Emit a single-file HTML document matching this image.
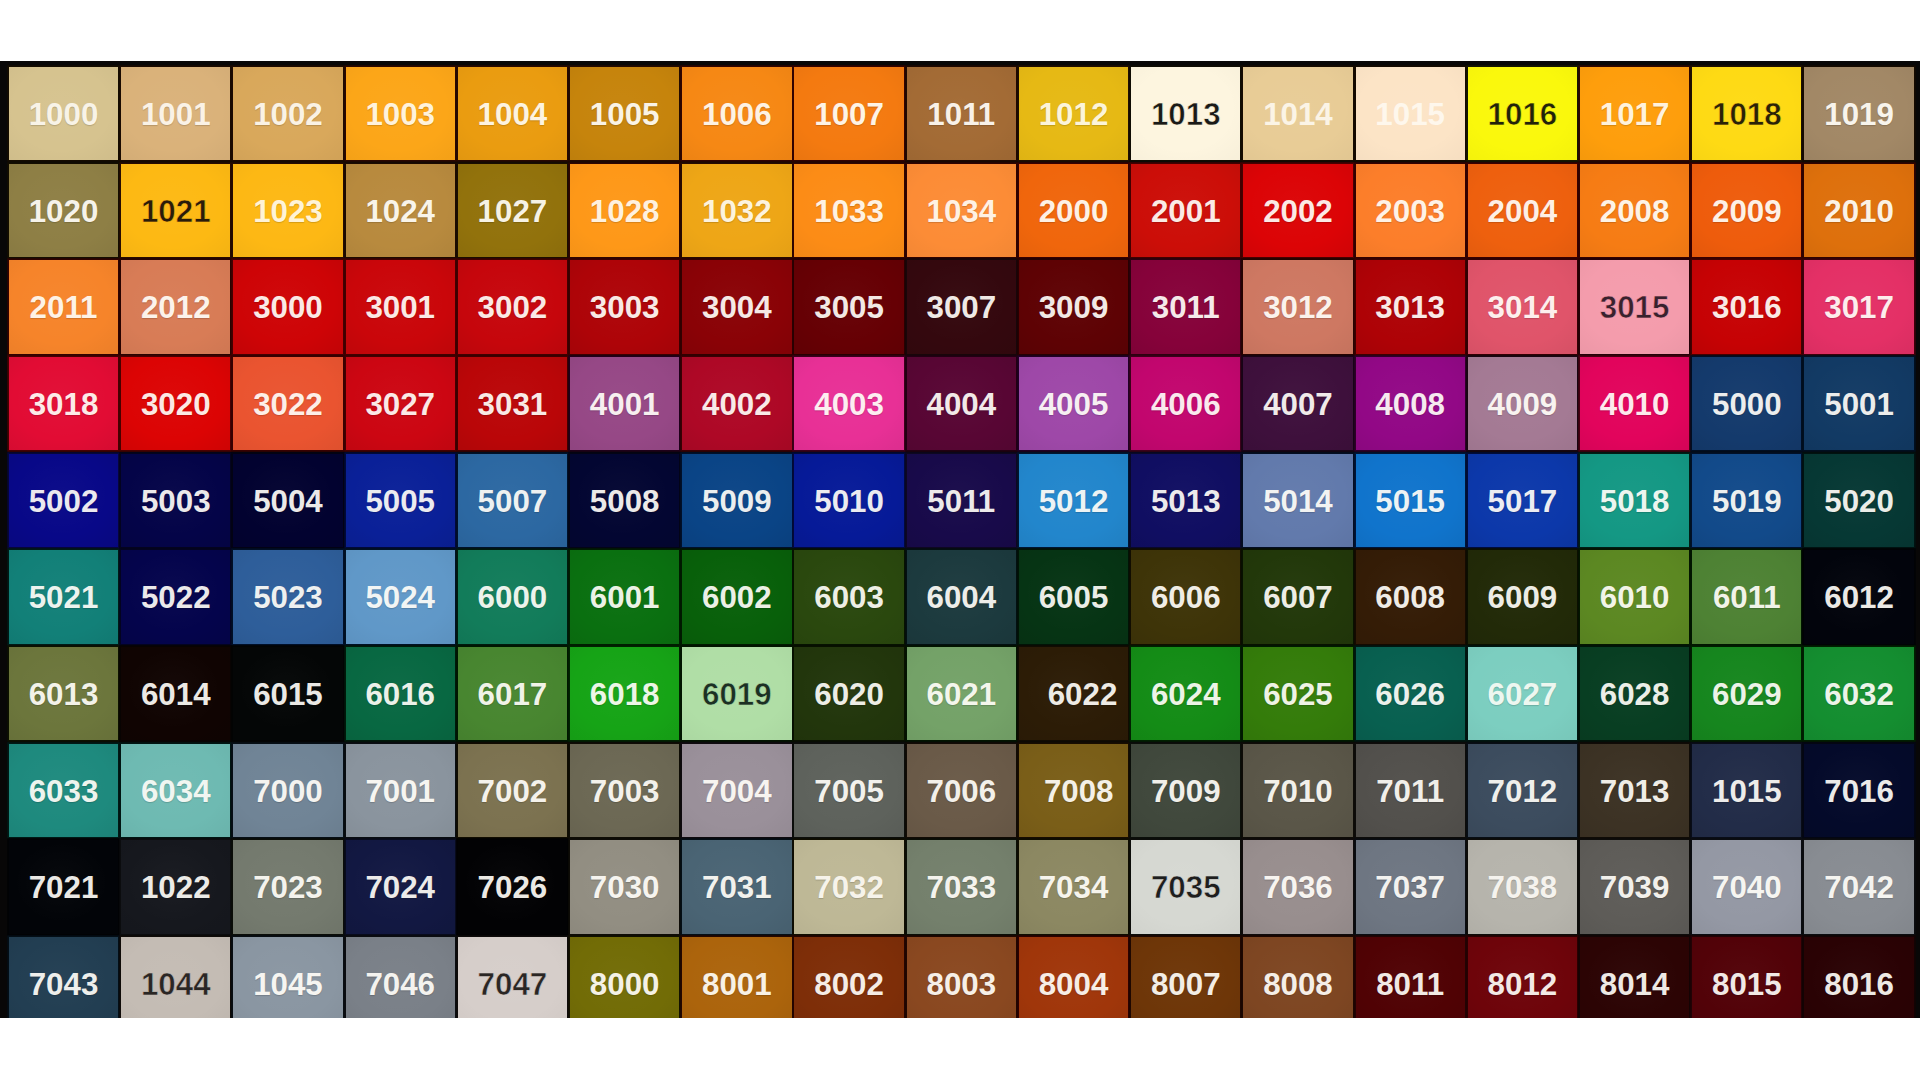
<!DOCTYPE html>
<html lang="en"><head><meta charset="utf-8"><title>RAL colour chart</title>
<style>
html,body{margin:0;padding:0;background:#fff;}
body{width:1920px;height:1080px;overflow:hidden;position:relative;font-family:"Liberation Sans",sans-serif;}
#chart{position:absolute;left:0;top:60.90px;width:1920.00px;height:956.90px;background:#080707;overflow:hidden;}
.c{position:absolute;width:109.30px;height:93.30px;color:#fbfaf6;font-weight:700;font-size:31.3px;line-height:93.30px;text-align:center;text-shadow:0 1px 1px rgba(0,0,0,.16);white-space:nowrap;}
.c.d{color:#1b1b18;text-shadow:none;}
.c span{position:relative;top:1.0px;}
.c::before{content:"";position:absolute;left:0;top:0;right:0;bottom:0;background:radial-gradient(ellipse 80% 80% at 48% 45%,rgba(255,255,255,.022) 0%,rgba(255,255,255,0) 55%,rgba(0,0,0,var(--v)) 100%);}
</style></head><body>
<div id="chart">
<div class="c" style="left:8.90px;top:6.00px;background:#D6C38F;box-shadow:0 0 0 1.7px #140c00;--v:0.040;color:#f8f3e7"><span>1000</span></div>
<div class="c" style="left:121.12px;top:6.00px;background:#DAB27A;box-shadow:0 0 0 1.7px #1a0a00;--v:0.043;color:#faf2e6"><span>1001</span></div>
<div class="c" style="left:233.34px;top:6.00px;background:#D9A85B;box-shadow:0 0 0 1.7px #1d0a00;--v:0.046;color:#faf2e4"><span>1002</span></div>
<div class="c" style="left:345.56px;top:6.00px;background:#FCA618;box-shadow:0 0 0 1.7px #2b0800;--v:0.045;color:#fff2db"><span>1003</span></div>
<div class="c" style="left:457.78px;top:6.00px;background:#EA9C10;box-shadow:0 0 0 1.7px #280900;--v:0.048;color:#fdf3e0"><span>1004</span></div>
<div class="c" style="left:570.00px;top:6.00px;background:#C6840C;box-shadow:0 0 0 1.7px #240a00;--v:0.055;color:#faf3e5"><span>1005</span></div>
<div class="c" style="left:682.22px;top:6.00px;background:#F68814;box-shadow:0 0 0 1.7px #300400;--v:0.050;color:#fef2e3"><span>1006</span></div>
<div class="c" style="left:794.44px;top:6.00px;background:#F47A10;box-shadow:0 0 0 1.7px #330200;--v:0.053;color:#fef3e5"><span>1007</span></div>
<div class="c" style="left:906.66px;top:6.00px;background:#A36B35;box-shadow:0 0 0 1.7px #1e0800;--v:0.060;color:#f8f1e8"><span>1011</span></div>
<div class="c" style="left:1018.88px;top:6.00px;background:#E6B914;box-shadow:0 0 0 1.7px #200e00;--v:0.044;color:#fcf4d9"><span>1012</span></div>
<div class="c d" style="left:1131.10px;top:6.00px;background:#FDF5DF;box-shadow:0 0 0 1.7px #0f0c03;--v:0.028;color:#1a1a18;-webkit-text-stroke:.55px #FDF5DF"><span>1013</span></div>
<div class="c" style="left:1243.32px;top:6.00px;background:#E8CC96;box-shadow:0 0 0 1.7px #160b00;--v:0.037;color:#fbf4e6;text-shadow:none"><span>1014</span></div>
<div class="c" style="left:1355.54px;top:6.00px;background:#FCE4C6;box-shadow:0 0 0 1.7px #140a00;--v:0.031;color:#fef7ec;text-shadow:none"><span>1015</span></div>
<div class="c d" style="left:1467.76px;top:6.00px;background:#FAF80C;box-shadow:0 0 0 1.7px #171700;--v:0.033;color:#22220a;-webkit-text-stroke:.55px #FAF80C"><span>1016</span></div>
<div class="c" style="left:1579.98px;top:6.00px;background:#FE9E0C;box-shadow:0 0 0 1.7px #2e0700;--v:0.047;color:#fff2dc"><span>1017</span></div>
<div class="c d" style="left:1692.20px;top:6.00px;background:#FEDA14;box-shadow:0 0 0 1.7px #1f1100;--v:0.037;color:#2a2208;-webkit-text-stroke:.55px #FEDA14"><span>1018</span></div>
<div class="c" style="left:1804.42px;top:6.00px;background:#A28866;box-shadow:0 0 0 1.7px #150a00;--v:0.054;color:#f8f4ec"><span>1019</span></div>
<div class="c" style="left:8.90px;top:102.67px;background:#8E7F45;box-shadow:0 0 0 1.7px #130d00;--v:0.058;color:#f6f3ea"><span>1020</span></div>
<div class="c d" style="left:121.12px;top:102.67px;background:#FDB913;box-shadow:0 0 0 1.7px #270b00;--v:0.042;color:#2a1c0a;-webkit-text-stroke:.55px #FDB913"><span>1021</span></div>
<div class="c" style="left:233.34px;top:102.67px;background:#FDB814;box-shadow:0 0 0 1.7px #270b00;--v:0.043;color:#fff3d6"><span>1023</span></div>
<div class="c" style="left:345.56px;top:102.67px;background:#B88A3E;box-shadow:0 0 0 1.7px #1c0a00;--v:0.054;color:#f9f4e9"><span>1024</span></div>
<div class="c" style="left:457.78px;top:102.67px;background:#92720C;box-shadow:0 0 0 1.7px #1a0d00;--v:0.061;color:#f6f2e5"><span>1027</span></div>
<div class="c" style="left:570.00px;top:102.67px;background:#FE9818;box-shadow:0 0 0 1.7px #2e0600;--v:0.047;color:#fff1de"><span>1028</span></div>
<div class="c" style="left:682.22px;top:102.67px;background:#EEA616;box-shadow:0 0 0 1.7px #270a00;--v:0.046;color:#fdf3dd"><span>1032</span></div>
<div class="c" style="left:794.44px;top:102.67px;background:#FC8C16;box-shadow:0 0 0 1.7px #310400;--v:0.049;color:#fff2e2"><span>1033</span></div>
<div class="c" style="left:906.66px;top:102.67px;background:#FC8C36;box-shadow:0 0 0 1.7px #2f0300;--v:0.048;color:#fff1e3"><span>1034</span></div>
<div class="c" style="left:1018.88px;top:102.67px;background:#F0660C;box-shadow:0 0 0 1.7px #370000;--v:0.056;color:#fef1e5"><span>2000</span></div>
<div class="c" style="left:1131.10px;top:102.67px;background:#CC0E08;box-shadow:0 0 0 1.7px #420000;--v:0.072;color:#fbeae5"><span>2001</span></div>
<div class="c" style="left:1243.32px;top:102.67px;background:#DC0406;box-shadow:0 0 0 1.7px #480000;--v:0.072;color:#fce9e5"><span>2002</span></div>
<div class="c" style="left:1355.54px;top:102.67px;background:#FC7E2A;box-shadow:0 0 0 1.7px #330100;--v:0.051;color:#fff2e6"><span>2003</span></div>
<div class="c" style="left:1467.76px;top:102.67px;background:#EE600E;box-shadow:0 0 0 1.7px #380000;--v:0.057;color:#fef0e5"><span>2004</span></div>
<div class="c" style="left:1579.98px;top:102.67px;background:#F67C14;box-shadow:0 0 0 1.7px #330200;--v:0.052;color:#fef3e6"><span>2008</span></div>
<div class="c" style="left:1692.20px;top:102.67px;background:#EE5C0C;box-shadow:0 0 0 1.7px #390000;--v:0.058;color:#fef0e5"><span>2009</span></div>
<div class="c" style="left:1804.42px;top:102.67px;background:#DE700C;box-shadow:0 0 0 1.7px #2f0300;--v:0.056;color:#fcf2e5"><span>2010</span></div>
<div class="c" style="left:8.90px;top:199.34px;background:#F6842A;box-shadow:0 0 0 1.7px #300200;--v:0.050;color:#fef2e5"><span>2011</span></div>
<div class="c" style="left:121.12px;top:199.34px;background:#D87C56;box-shadow:0 0 0 1.7px #280300;--v:0.052;color:#fcf3eb"><span>2012</span></div>
<div class="c" style="left:233.34px;top:199.34px;background:#CE0406;box-shadow:0 0 0 1.7px #450000;--v:0.074;color:#fbe9e5"><span>3000</span></div>
<div class="c" style="left:345.56px;top:199.34px;background:#CA060A;box-shadow:0 0 0 1.7px #430000;--v:0.073;color:#fbe9e5"><span>3001</span></div>
<div class="c" style="left:457.78px;top:199.34px;background:#C6060C;box-shadow:0 0 0 1.7px #420000;--v:0.074;color:#fae9e5"><span>3002</span></div>
<div class="c" style="left:570.00px;top:199.34px;background:#AE0408;box-shadow:0 0 0 1.7px #3b0000;--v:0.076;color:#f9e9e5"><span>3003</span></div>
<div class="c" style="left:682.22px;top:199.34px;background:#8A0206;box-shadow:0 0 0 1.7px #320000;--v:0.079;color:#f6e9e5"><span>3004</span></div>
<div class="c" style="left:794.44px;top:199.34px;background:#660004;box-shadow:0 0 0 1.7px #280001;--v:0.082;color:#f3e9e4"><span>3005</span></div>
<div class="c" style="left:906.66px;top:199.34px;background:#34080E;box-shadow:0 0 0 1.7px #180609;--v:0.084;color:#efe9e5"><span>3007</span></div>
<div class="c" style="left:1018.88px;top:199.34px;background:#5E0204;box-shadow:0 0 0 1.7px #260102;--v:0.082;color:#f2e9e4"><span>3009</span></div>
<div class="c" style="left:1131.10px;top:199.34px;background:#86023A;box-shadow:0 0 0 1.7px #2e0010;--v:0.078;color:#f5e9e9"><span>3011</span></div>
<div class="c" style="left:1243.32px;top:199.34px;background:#CE7862;box-shadow:0 0 0 1.7px #250300;--v:0.053;color:#fbf2ec"><span>3012</span></div>
<div class="c" style="left:1355.54px;top:199.34px;background:#AE0206;box-shadow:0 0 0 1.7px #3c0000;--v:0.076;color:#f9e9e5"><span>3013</span></div>
<div class="c" style="left:1467.76px;top:199.34px;background:#E0546A;box-shadow:0 0 0 1.7px #320003;--v:0.057;color:#fdefed"><span>3014</span></div>
<div class="c d" style="left:1579.98px;top:199.34px;background:#F49CAC;box-shadow:0 0 0 1.7px #240107;--v:0.043;color:#38222e;-webkit-text-stroke:.55px #F49CAC"><span>3015</span></div>
<div class="c" style="left:1692.20px;top:199.34px;background:#C60204;box-shadow:0 0 0 1.7px #430000;--v:0.074;color:#fae9e4"><span>3016</span></div>
<div class="c" style="left:1804.42px;top:199.34px;background:#E43066;box-shadow:0 0 0 1.7px #3c000a;--v:0.062;color:#fdedec"><span>3017</span></div>
<div class="c" style="left:8.90px;top:296.01px;background:#E20C34;box-shadow:0 0 0 1.7px #460001;--v:0.069;color:#fdeae8"><span>3018</span></div>
<div class="c" style="left:121.12px;top:296.01px;background:#DC0404;box-shadow:0 0 0 1.7px #490000;--v:0.073;color:#fce9e4"><span>3020</span></div>
<div class="c" style="left:233.34px;top:296.01px;background:#EA5430;box-shadow:0 0 0 1.7px #380000;--v:0.058;color:#fdefe8"><span>3022</span></div>
<div class="c" style="left:345.56px;top:296.01px;background:#CC0612;box-shadow:0 0 0 1.7px #430000;--v:0.073;color:#fbe9e6"><span>3027</span></div>
<div class="c" style="left:457.78px;top:296.01px;background:#BA0608;box-shadow:0 0 0 1.7px #3e0000;--v:0.075;color:#f9e9e5"><span>3031</span></div>
<div class="c" style="left:570.00px;top:296.01px;background:#964886;box-shadow:0 0 0 1.7px #1f0019;--v:0.064;color:#f7efef"><span>4001</span></div>
<div class="c" style="left:682.22px;top:296.01px;background:#AE0826;box-shadow:0 0 0 1.7px #390003;--v:0.074;color:#f9e9e7"><span>4002</span></div>
<div class="c" style="left:794.44px;top:296.01px;background:#E83096;box-shadow:0 0 0 1.7px #3b001a;--v:0.061;color:#fdedf0"><span>4003</span></div>
<div class="c" style="left:906.66px;top:296.01px;background:#580634;box-shadow:0 0 0 1.7px #210012;--v:0.081;color:#f2e9e8"><span>4004</span></div>
<div class="c" style="left:1018.88px;top:296.01px;background:#9E48A8;box-shadow:0 0 0 1.7px #200024;--v:0.062;color:#f7eff2"><span>4005</span></div>
<div class="c" style="left:1131.10px;top:296.01px;background:#C2066E;box-shadow:0 0 0 1.7px #3c001a;--v:0.071;color:#fae9ed"><span>4006</span></div>
<div class="c" style="left:1243.32px;top:296.01px;background:#3E103C;box-shadow:0 0 0 1.7px #170416;--v:0.081;color:#f0eae9"><span>4007</span></div>
<div class="c" style="left:1355.54px;top:296.01px;background:#920886;box-shadow:0 0 0 1.7px #2d0028;--v:0.074;color:#f6e9ef"><span>4008</span></div>
<div class="c" style="left:1467.76px;top:296.01px;background:#A47A94;box-shadow:0 0 0 1.7px #170610;--v:0.055;color:#f8f3f0"><span>4009</span></div>
<div class="c" style="left:1579.98px;top:296.01px;background:#E2045C;box-shadow:0 0 0 1.7px #460011;--v:0.070;color:#fde9ec"><span>4010</span></div>
<div class="c" style="left:1692.20px;top:296.01px;background:#143A6C;box-shadow:0 0 0 1.7px #000e22;--v:0.077;color:#eceded"><span>5000</span></div>
<div class="c" style="left:1804.42px;top:296.01px;background:#123A64;box-shadow:0 0 0 1.7px #000f20;--v:0.077;color:#ecedec"><span>5001</span></div>
<div class="c" style="left:8.90px;top:392.68px;background:#080888;box-shadow:0 0 0 1.7px #060639;--v:0.084;color:#ebe9ef"><span>5002</span></div>
<div class="c" style="left:121.12px;top:392.68px;background:#040448;box-shadow:0 0 0 1.7px #03031f;--v:0.087;color:#ebe9ea"><span>5003</span></div>
<div class="c" style="left:233.34px;top:392.68px;background:#020230;box-shadow:0 0 0 1.7px #020214;--v:0.088;color:#ebe9e8"><span>5004</span></div>
<div class="c" style="left:345.56px;top:392.68px;background:#0A2098;box-shadow:0 0 0 1.7px #000939;--v:0.080;color:#ebebf0"><span>5005</span></div>
<div class="c" style="left:457.78px;top:392.68px;background:#2C68A2;box-shadow:0 0 0 1.7px #001128;--v:0.066;color:#eef1f1"><span>5007</span></div>
<div class="c" style="left:570.00px;top:392.68px;background:#030632;box-shadow:0 0 0 1.7px #030416;--v:0.087;color:#ebe9e8"><span>5008</span></div>
<div class="c" style="left:682.22px;top:392.68px;background:#0A4486;box-shadow:0 0 0 1.7px #00102a;--v:0.075;color:#ebeeef"><span>5009</span></div>
<div class="c" style="left:794.44px;top:392.68px;background:#061A98;box-shadow:0 0 0 1.7px #01093b;--v:0.081;color:#ebebf0"><span>5010</span></div>
<div class="c" style="left:906.66px;top:392.68px;background:#180A4A;box-shadow:0 0 0 1.7px #0d0721;--v:0.085;color:#edeaea"><span>5011</span></div>
<div class="c" style="left:1018.88px;top:392.68px;background:#2286CC;box-shadow:0 0 0 1.7px #001531;--v:0.061;color:#edf3f4"><span>5012</span></div>
<div class="c" style="left:1131.10px;top:392.68px;background:#100E62;box-shadow:0 0 0 1.7px #09082a;--v:0.084;color:#eceaec"><span>5013</span></div>
<div class="c" style="left:1243.32px;top:392.68px;background:#627AAC;box-shadow:0 0 0 1.7px #030d21;--v:0.059;color:#f2f3f2"><span>5014</span></div>
<div class="c" style="left:1355.54px;top:392.68px;background:#1074CC;box-shadow:0 0 0 1.7px #001437;--v:0.065;color:#ecf2f4"><span>5015</span></div>
<div class="c" style="left:1467.76px;top:392.68px;background:#0C38AA;box-shadow:0 0 0 1.7px #000c3a;--v:0.076;color:#ecedf2"><span>5017</span></div>
<div class="c" style="left:1579.98px;top:392.68px;background:#149884;box-shadow:0 0 0 1.7px #001d15;--v:0.062;color:#ecf5ef"><span>5018</span></div>
<div class="c" style="left:1692.20px;top:392.68px;background:#124A8A;box-shadow:0 0 0 1.7px #001029;--v:0.074;color:#ecefef"><span>5019</span></div>
<div class="c" style="left:1804.42px;top:392.68px;background:#063834;box-shadow:0 0 0 1.7px #001211;--v:0.080;color:#ebede8"><span>5020</span></div>
<div class="c" style="left:8.90px;top:489.35px;background:#128078;box-shadow:0 0 0 1.7px #001a16;--v:0.066;color:#ecf3ee"><span>5021</span></div>
<div class="c" style="left:121.12px;top:489.35px;background:#04044C;box-shadow:0 0 0 1.7px #030320;--v:0.087;color:#ebe9ea"><span>5022</span></div>
<div class="c" style="left:233.34px;top:489.35px;background:#2E5E9A;box-shadow:0 0 0 1.7px #000f27;--v:0.068;color:#eef0f0"><span>5023</span></div>
<div class="c" style="left:345.56px;top:489.35px;background:#6098C8;box-shadow:0 0 0 1.7px #001124;--v:0.054;color:#f2f5f4"><span>5024</span></div>
<div class="c" style="left:457.78px;top:489.35px;background:#127C5A;box-shadow:0 0 0 1.7px #001a0d;--v:0.067;color:#ecf3eb"><span>6000</span></div>
<div class="c" style="left:570.00px;top:489.35px;background:#0A7010;box-shadow:0 0 0 1.7px #001d00;--v:0.072;color:#ebf2e5"><span>6001</span></div>
<div class="c" style="left:682.22px;top:489.35px;background:#08600A;box-shadow:0 0 0 1.7px #001a00;--v:0.075;color:#ebf0e5"><span>6002</span></div>
<div class="c" style="left:794.44px;top:489.35px;background:#2A480E;box-shadow:0 0 0 1.7px #061200;--v:0.076;color:#eeefe5"><span>6003</span></div>
<div class="c" style="left:906.66px;top:489.35px;background:#1C3A3E;box-shadow:0 0 0 1.7px #030f11;--v:0.077;color:#edede9"><span>6004</span></div>
<div class="c" style="left:1018.88px;top:489.35px;background:#063414;box-shadow:0 0 0 1.7px #011306;--v:0.081;color:#ebede6"><span>6005</span></div>
<div class="c" style="left:1131.10px;top:489.35px;background:#3E3408;box-shadow:0 0 0 1.7px #110d00;--v:0.077;color:#f0ede5"><span>6006</span></div>
<div class="c" style="left:1243.32px;top:489.35px;background:#22380A;box-shadow:0 0 0 1.7px #081100;--v:0.079;color:#edede5"><span>6007</span></div>
<div class="c" style="left:1355.54px;top:489.35px;background:#341C06;box-shadow:0 0 0 1.7px #140a01;--v:0.082;color:#efebe5"><span>6008</span></div>
<div class="c" style="left:1467.76px;top:489.35px;background:#222A08;box-shadow:0 0 0 1.7px #0b0f01;--v:0.081;color:#edece5"><span>6009</span></div>
<div class="c" style="left:1579.98px;top:489.35px;background:#5C8822;box-shadow:0 0 0 1.7px #041600;--v:0.062;color:#f2f4e7"><span>6010</span></div>
<div class="c" style="left:1692.20px;top:489.35px;background:#4E8234;box-shadow:0 0 0 1.7px #011600;--v:0.063;color:#f1f3e8"><span>6011</span></div>
<div class="c" style="left:1804.42px;top:489.35px;background:#02040C;box-shadow:0 0 0 1.7px #010205;--v:0.089;color:#ebe9e5"><span>6012</span></div>
<div class="c" style="left:8.90px;top:586.02px;background:#6C763C;box-shadow:0 0 0 1.7px #0c1000;--v:0.062;color:#f3f2e9"><span>6013</span></div>
<div class="c" style="left:121.12px;top:586.02px;background:#100402;box-shadow:0 0 0 1.7px #080302;--v:0.088;color:#ece9e4"><span>6014</span></div>
<div class="c" style="left:233.34px;top:586.02px;background:#040606;box-shadow:0 0 0 1.7px #020303;--v:0.089;color:#ebe9e5"><span>6015</span></div>
<div class="c" style="left:345.56px;top:586.02px;background:#086842;box-shadow:0 0 0 1.7px #00190a;--v:0.072;color:#ebf1e9"><span>6016</span></div>
<div class="c" style="left:457.78px;top:586.02px;background:#488630;box-shadow:0 0 0 1.7px #001700;--v:0.063;color:#f0f3e8"><span>6017</span></div>
<div class="c" style="left:570.00px;top:586.02px;background:#16A416;box-shadow:0 0 0 1.7px #002300;--v:0.063;color:#ecf6e6"><span>6018</span></div>
<div class="c d" style="left:682.22px;top:586.02px;background:#B0DEA6;box-shadow:0 0 0 1.7px #021400;--v:0.039;color:#1c3024;-webkit-text-stroke:.55px #B0DEA6"><span>6019</span></div>
<div class="c" style="left:794.44px;top:586.02px;background:#22360C;box-shadow:0 0 0 1.7px #081000;--v:0.079;color:#edede5"><span>6020</span></div>
<div class="c" style="left:906.66px;top:586.02px;background:#74A268;box-shadow:0 0 0 1.7px #021400;--v:0.054;color:#f4f6ec"><span>6021</span></div>
<div class="c" style="left:1018.88px;top:586.02px;background:#2C1C06;box-shadow:0 0 0 1.7px #110b02;--v:0.082;color:#eeebe5"><span style="left:9px;top:1px">6022</span></div>
<div class="c" style="left:1131.10px;top:586.02px;background:#148C16;box-shadow:0 0 0 1.7px #002000;--v:0.067;color:#ecf4e6"><span>6024</span></div>
<div class="c" style="left:1243.32px;top:586.02px;background:#347C0A;box-shadow:0 0 0 1.7px #001a00;--v:0.067;color:#eff3e5"><span>6025</span></div>
<div class="c" style="left:1355.54px;top:586.02px;background:#086050;box-shadow:0 0 0 1.7px #001711;--v:0.073;color:#ebf0eb"><span>6026</span></div>
<div class="c" style="left:1467.76px;top:586.02px;background:#7CCEC0;box-shadow:0 0 0 1.7px #001611;--v:0.044;color:#edf7f0"><span>6027</span></div>
<div class="c" style="left:1579.98px;top:586.02px;background:#083E22;box-shadow:0 0 0 1.7px #001409;--v:0.079;color:#ebeee7"><span>6028</span></div>
<div class="c" style="left:1692.20px;top:586.02px;background:#16861E;box-shadow:0 0 0 1.7px #001e00;--v:0.067;color:#ecf3e7"><span>6029</span></div>
<div class="c" style="left:1804.42px;top:586.02px;background:#148E30;box-shadow:0 0 0 1.7px #001f00;--v:0.066;color:#ecf4e8"><span>6032</span></div>
<div class="c" style="left:8.90px;top:682.69px;background:#1E8A7E;box-shadow:0 0 0 1.7px #001915;--v:0.063;color:#edf4ee"><span>6033</span></div>
<div class="c" style="left:121.12px;top:682.69px;background:#6EBAB2;box-shadow:0 0 0 1.7px #001512;--v:0.049;color:#f0f6f1"><span>6034</span></div>
<div class="c" style="left:233.34px;top:682.69px;background:#708496;box-shadow:0 0 0 1.7px #060e15;--v:0.057;color:#f4f3f0"><span>7000</span></div>
<div class="c" style="left:345.56px;top:682.69px;background:#8A949E;box-shadow:0 0 0 1.7px #090d11;--v:0.053;color:#f6f5f1"><span>7001</span></div>
<div class="c" style="left:457.78px;top:682.69px;background:#7C7250;box-shadow:0 0 0 1.7px #100c00;--v:0.061;color:#f5f2eb"><span>7002</span></div>
<div class="c" style="left:570.00px;top:682.69px;background:#6C6854;box-shadow:0 0 0 1.7px #0e0c04;--v:0.064;color:#f3f1eb"><span>7003</span></div>
<div class="c" style="left:682.22px;top:682.69px;background:#9A909A;box-shadow:0 0 0 1.7px #0e0a0e;--v:0.052;color:#f7f4f0"><span>7004</span></div>
<div class="c" style="left:794.44px;top:682.69px;background:#5E625C;box-shadow:0 0 0 1.7px #0b0d0a;--v:0.065;color:#f2f1ec"><span>7005</span></div>
<div class="c" style="left:906.66px;top:682.69px;background:#6A5A48;box-shadow:0 0 0 1.7px #110b04;--v:0.066;color:#f3f0ea"><span>7006</span></div>
<div class="c" style="left:1018.88px;top:682.69px;background:#7A5E18;box-shadow:0 0 0 1.7px #170c00;--v:0.066;color:#f4f0e6"><span style="left:5.2px;top:1px">7008</span></div>
<div class="c" style="left:1131.10px;top:682.69px;background:#40483C;box-shadow:0 0 0 1.7px #0a0e09;--v:0.073;color:#f0efe9"><span>7009</span></div>
<div class="c" style="left:1243.32px;top:682.69px;background:#5A5648;box-shadow:0 0 0 1.7px #0e0c07;--v:0.068;color:#f2f0ea"><span>7010</span></div>
<div class="c" style="left:1355.54px;top:682.69px;background:#52504C;box-shadow:0 0 0 1.7px #0d0c0a;--v:0.070;color:#f1efea"><span>7011</span></div>
<div class="c" style="left:1467.76px;top:682.69px;background:#3C4C5E;box-shadow:0 0 0 1.7px #070d14;--v:0.071;color:#efefec"><span>7012</span></div>
<div class="c" style="left:1579.98px;top:682.69px;background:#3C3224;box-shadow:0 0 0 1.7px #0f0b06;--v:0.077;color:#efede7"><span>7013</span></div>
<div class="c" style="left:1692.20px;top:682.69px;background:#222C48;box-shadow:0 0 0 1.7px #080c17;--v:0.079;color:#edecea"><span>1015</span></div>
<div class="c" style="left:1804.42px;top:682.69px;background:#040A2A;box-shadow:0 0 0 1.7px #030613;--v:0.087;color:#ebeae8"><span>7016</span></div>
<div class="c" style="left:8.90px;top:779.36px;background:#020408;box-shadow:0 0 0 1.7px #010204;--v:0.089;color:#ebe9e5"><span>7021</span></div>
<div class="c" style="left:121.12px;top:779.36px;background:#16181E;box-shadow:0 0 0 1.7px #0b0c0e;--v:0.084;color:#ecebe7"><span>1022</span></div>
<div class="c" style="left:233.34px;top:779.36px;background:#747A6E;box-shadow:0 0 0 1.7px #0b0d08;--v:0.060;color:#f4f3ed"><span>7023</span></div>
<div class="c" style="left:345.56px;top:779.36px;background:#121842;box-shadow:0 0 0 1.7px #080b1c;--v:0.083;color:#ecebe9"><span>7024</span></div>
<div class="c" style="left:457.78px;top:779.36px;background:#020204;box-shadow:0 0 0 1.7px #010102;--v:0.089;color:#ebe9e4"><span>7026</span></div>
<div class="c" style="left:570.00px;top:779.36px;background:#928E82;box-shadow:0 0 0 1.7px #0e0c07;--v:0.054;color:#f6f4ef"><span>7030</span></div>
<div class="c" style="left:682.22px;top:779.36px;background:#4A6474;box-shadow:0 0 0 1.7px #040e15;--v:0.066;color:#f1f1ed"><span>7031</span></div>
<div class="c" style="left:794.44px;top:779.36px;background:#BEB896;box-shadow:0 0 0 1.7px #0f0d00;--v:0.044;color:#f6f3ea"><span>7032</span></div>
<div class="c" style="left:906.66px;top:779.36px;background:#74806C;box-shadow:0 0 0 1.7px #0a0e06;--v:0.059;color:#f4f3ed"><span>7033</span></div>
<div class="c" style="left:1018.88px;top:779.36px;background:#8C8862;box-shadow:0 0 0 1.7px #0f0d00;--v:0.056;color:#f6f4ec"><span>7034</span></div>
<div class="c d" style="left:1131.10px;top:779.36px;background:#D6D8D2;box-shadow:0 0 0 1.7px #0c0d0a;--v:0.035;color:#1e1e1e;-webkit-text-stroke:.55px #D6D8D2"><span>7035</span></div>
<div class="c" style="left:1243.32px;top:779.36px;background:#988E8E;box-shadow:0 0 0 1.7px #0f0b0b;--v:0.053;color:#f7f4f0"><span>7036</span></div>
<div class="c" style="left:1355.54px;top:779.36px;background:#6E7682;box-shadow:0 0 0 1.7px #090c11;--v:0.060;color:#f3f2ef"><span>7037</span></div>
<div class="c" style="left:1467.76px;top:779.36px;background:#B6B4AC;box-shadow:0 0 0 1.7px #0d0c09;--v:0.044;color:#f5f3ee"><span>7038</span></div>
<div class="c" style="left:1579.98px;top:779.36px;background:#5E5C58;box-shadow:0 0 0 1.7px #0d0c0a;--v:0.067;color:#f2f0eb"><span>7039</span></div>
<div class="c" style="left:1692.20px;top:779.36px;background:#9498A4;box-shadow:0 0 0 1.7px #0a0c11;--v:0.051;color:#f6f5f1"><span>7040</span></div>
<div class="c" style="left:1804.42px;top:779.36px;background:#888C92;box-shadow:0 0 0 1.7px #0b0c0f;--v:0.054;color:#f5f4f0"><span>7042</span></div>
<div class="c" style="left:8.90px;top:876.03px;background:#223E52;box-shadow:0 0 0 1.7px #030e16;--v:0.076;color:#edeeeb"><span>7043</span></div>
<div class="c d" style="left:121.12px;top:876.03px;background:#C4BCB4;box-shadow:0 0 0 1.7px #0f0b08;--v:0.042;color:#2a2624;-webkit-text-stroke:.55px #C4BCB4"><span>1044</span></div>
<div class="c" style="left:233.34px;top:876.03px;background:#8A96A2;box-shadow:0 0 0 1.7px #080d12;--v:0.052;color:#f6f5f1"><span>1045</span></div>
<div class="c" style="left:345.56px;top:876.03px;background:#7A8088;box-shadow:0 0 0 1.7px #0a0c10;--v:0.058;color:#f4f3ef"><span>7046</span></div>
<div class="c d" style="left:457.78px;top:876.03px;background:#D6CECA;box-shadow:0 0 0 1.7px #0e0b0a;--v:0.037;color:#2a2624;-webkit-text-stroke:.55px #D6CECA"><span>7047</span></div>
<div class="c" style="left:570.00px;top:876.03px;background:#726C06;box-shadow:0 0 0 1.7px #121000;--v:0.065;color:#f4f1e5"><span>8000</span></div>
<div class="c" style="left:682.22px;top:876.03px;background:#AC640C;box-shadow:0 0 0 1.7px #240700;--v:0.062;color:#f8f1e5"><span>8001</span></div>
<div class="c" style="left:794.44px;top:876.03px;background:#7E2E08;box-shadow:0 0 0 1.7px #240400;--v:0.073;color:#f5ece5"><span>8002</span></div>
<div class="c" style="left:906.66px;top:876.03px;background:#8A4820;box-shadow:0 0 0 1.7px #200600;--v:0.068;color:#f6efe7"><span>8003</span></div>
<div class="c" style="left:1018.88px;top:876.03px;background:#A0360A;box-shadow:0 0 0 1.7px #2c0100;--v:0.069;color:#f7ede5"><span>8004</span></div>
<div class="c" style="left:1131.10px;top:876.03px;background:#6E3608;box-shadow:0 0 0 1.7px #1e0700;--v:0.073;color:#f3ede5"><span>8007</span></div>
<div class="c" style="left:1243.32px;top:876.03px;background:#7E4622;box-shadow:0 0 0 1.7px #1d0700;--v:0.069;color:#f5eee7"><span>8008</span></div>
<div class="c" style="left:1355.54px;top:876.03px;background:#500204;box-shadow:0 0 0 1.7px #220303;--v:0.083;color:#f1e9e4"><span>8011</span></div>
<div class="c" style="left:1467.76px;top:876.03px;background:#6E040A;box-shadow:0 0 0 1.7px #290001;--v:0.081;color:#f3e9e5"><span>8012</span></div>
<div class="c" style="left:1579.98px;top:876.03px;background:#2C0404;box-shadow:0 0 0 1.7px #140404;--v:0.086;color:#eee9e4"><span>8014</span></div>
<div class="c" style="left:1692.20px;top:876.03px;background:#520208;box-shadow:0 0 0 1.7px #220205;--v:0.083;color:#f1e9e5"><span>8015</span></div>
<div class="c" style="left:1804.42px;top:876.03px;background:#2A0204;box-shadow:0 0 0 1.7px #130304;--v:0.086;color:#eee9e4"><span>8016</span></div>
</div>
</body></html>
